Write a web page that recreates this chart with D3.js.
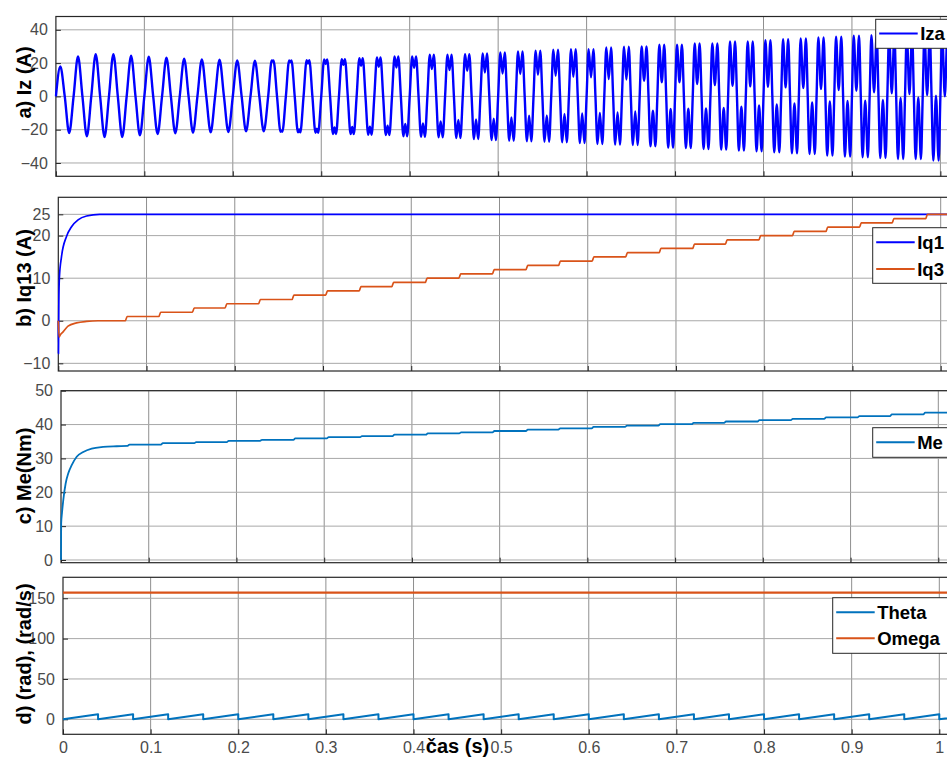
<!DOCTYPE html>
<html>
<head>
<meta charset="utf-8">
<script src="https://cdn.jsdelivr.net/npm/d3@7"></script>
<style>
  html, body { margin: 0; padding: 0; background: #fff; }
  svg { display: block; }
  text { font-family: "Liberation Sans", Arial, Helvetica, sans-serif; }
</style>
</head>
<body>
<svg id="fig" width="947" height="758"></svg>
<script>
// ---------------- data ----------------
const timeTicks = [0, 0.1, 0.2, 0.3, 0.4, 0.5, 0.6, 0.7, 0.8, 0.9, 1];
const timeTickLabels = ["0", "0.1", "0.2", "0.3", "0.4", "0.5", "0.6", "0.7", "0.8", "0.9", "1"];

// a) phase current Iz, 50 Hz: one entry per electrical cycle k (0.02 s each)
const izPeriod = 0.02;
const izPosPeak = [18, 24, 25.4, 25.4, 24.4, 23.8, 23.2, 22.6, 22.2, 22, 21.6, 21.4, 21.6, 21.6, 21.8, 22.2, 22.4, 23, 23.4, 24,
  24, 25, 25, 25.4, 25.8, 26.4, 27, 27.4, 28, 28.4, 28.4, 29.4, 29.8, 30, 31, 31, 31.8, 31.8, 33, 33,
  33.8, 34.4, 34.8, 35.4, 35.8, 36.4, 36.8, 37.4, 37.8, 38, 38.4];
const izPosDip = [18, 24, 25.4, 25.4, 24.4, 23.8, 23.2, 22.6, 22.2, 22, 21.6, 21.4, 21.0, 20.6, 19.8, 19.4, 19, 18.4, 17.8, 17.4,
  17.2, 16.4, 15.8, 15.4, 14.4, 13.8, 13.4, 13, 12.4, 11.8, 11.4, 10.4, 10.2, 9.4, 8.4, 8.4, 7.4, 6.8, 6.4, 6,
  5.8, 5.4, 5, 4.4, 3.8, 3.4, 2.4, 1.8, 1.4, 0.8, 0];
const izNegPeak = [-22, -24, -24.4, -24.4, -23.4, -22.6, -22.2, -21.8, -21.6, -21.4, -21, -21, -21.2, -21.6, -21.8, -22.6, -22.6, -23, -23.2, -24,
  -24.2, -24.6, -25, -25.6, -26.2, -26.6, -27, -27.2, -27.6, -28, -28.6, -29, -29.2, -30, -30.8, -31, -31.6, -32, -32.6, -33,
  -33.6, -34.2, -34.6, -35.6, -36.2, -36.6, -37, -37.6, -37.6, -38.6, -38.8];
const izNegDip = [-22, -24, -24.4, -24.4, -23.4, -22.6, -22.2, -21.8, -21.6, -21.4, -21, -21, -20.6, -19.8, -19.4, -18.6, -18.4, -18.2, -17.6, -16.6,
  -16.2, -15, -14.2, -13.8, -13.4, -12.6, -11.6, -11.4, -10.6, -10.2, -10, -9.6, -9, -8.6, -7.6, -7.4, -7.2, -7, -6.2, -5.4,
  -4.8, -4.2, -3.6, -3, -2.8, -2.6, -2.2, -1, -0.6, 0.4, 0.6];
// position of the two humps inside each half cycle (0.5 = single rounded peak)
const izHump = [0.5, 0.5, 0.5, 0.5, 0.5, 0.5, 0.5, 0.5, 0.5, 0.5, 0.5, 0.5,
  0.4, 0.37, 0.35, 0.33, 0.32, 0.31, 0.3, 0.29, 0.28, 0.27, 0.27, 0.26, 0.26, 0.25, 0.25,
  0.24, 0.24, 0.24, 0.23, 0.23, 0.23, 0.22, 0.22, 0.22, 0.22, 0.21, 0.21, 0.21, 0.21, 0.21,
  0.2, 0.2, 0.2, 0.2, 0.2, 0.2, 0.2, 0.2, 0.2];
const izTicks = [-40, -20, 0, 20, 40];

// b) q-axis currents
const iq1Time = [0, 0.0002, 0.0006, 0.0012, 0.0036, 0.0093, 0.015, 0.0224, 0.032, 0.047, 0.07, 1.06];
const iq1Value = [0, -7.7, 4, 10, 15, 19.8, 22.1, 23.7, 24.6, 25, 25, 25];
const iq3StartTime = [0, 0.001, 0.002, 0.0054, 0.011, 0.0206, 0.032, 0.045];
const iq3StartValue = [0, -3.8, -3.4, -2.6, -1.25, -0.5, -0.15, 0];
const stepTimes = [0.076, 0.114, 0.152, 0.189, 0.227, 0.265, 0.303, 0.341, 0.378, 0.416, 0.454, 0.492, 0.530,
  0.567, 0.605, 0.643, 0.681, 0.719, 0.756, 0.794, 0.832, 0.870, 0.908, 0.945, 0.983];
const iq3Levels = [1, 2, 3, 4, 5, 6, 7, 8, 9, 10, 11, 12, 13, 14, 15, 16, 17, 18, 19, 20, 21, 22, 23, 24, 25];
const iqTicks = [-10, 0, 10, 20, 25];

// c) electromagnetic torque
const meStartTime = [0, 0.0002, 0.0011, 0.0026, 0.0053, 0.0083, 0.0122, 0.0179, 0.0254, 0.035, 0.048, 0.0635];
const meStartValue = [0, 10.8, 13.8, 17.7, 22.6, 25.6, 28, 30.5, 31.9, 32.9, 33.4, 33.6];
const meBase = 33.7;
const meLevels = [34.1, 34.5, 34.8, 35.2, 35.5, 35.9, 36.3, 36.6, 37.0, 37.4, 37.7, 38.1, 38.5, 38.9, 39.3,
  39.7, 40.1, 40.5, 40.9, 41.3, 41.7, 42.1, 42.5, 43.0, 43.5];
const meTicks = [0, 10, 20, 30, 40, 50];

// d) rotor angle (saw-tooth) and speed
const thetaResetTimes = [0, 0.04, 0.08, 0.12, 0.16, 0.2, 0.24, 0.28, 0.32, 0.36, 0.4, 0.44, 0.48, 0.52,
  0.56, 0.6, 0.64, 0.68, 0.72, 0.76, 0.8, 0.84, 0.88, 0.92, 0.96, 1.0, 1.04];
const thetaMax = 6.28;
const omegaTime = [0, 1.06];
const omegaValue = [157, 157];
const angTicks = [0, 50, 100, 150];

// ---------------- series assembly ----------------
const izPts = [];
izPosPeak.forEach((_, k) => {
  const half = izPeriod / 2;
  [[izPosPeak[k], izPosDip[k]], [izNegPeak[k], izNegDip[k]]].forEach(([pk, dp], h) => {
    const t0 = k * izPeriod + h * half;
    const f = izHump[k];
    izPts.push([t0, 0]);
    if (f >= 0.5) izPts.push([t0 + half / 2, pk]);
    else izPts.push([t0 + f * half, pk], [t0 + half / 2, dp], [t0 + (1 - f) * half, pk]);
  });
});
izPts.push([izPosPeak.length * izPeriod, 0]);

const iq1Pts = iq1Time.map((t, i) => [t, iq1Value[i]]);

function stepSeries(startT, startV, base, levels, endT) {
  const pts = startT.map((t, i) => [t, startV[i]]);
  let prev = base;
  stepTimes.forEach((t, i) => {
    pts.push([t, prev], [t + 0.002, levels[i]]);
    prev = levels[i];
  });
  pts.push([endT, prev]);
  return pts;
}
const iq3Pts = stepSeries(iq3StartTime, iq3StartValue, 0, iq3Levels, 1.06);
const mePts = stepSeries(meStartTime, meStartValue, meBase, meLevels, 1.06);

const thetaPts = [];
thetaResetTimes.slice(0, -1).forEach((t, i) => {
  thetaPts.push([t, 0], [thetaResetTimes[i + 1], thetaMax]);
});
const omegaPts = omegaTime.map((t, i) => [t, omegaValue[i]]);

// ---------------- layout ----------------
const svg = d3.select("#fig");
const RIGHT = 1010;            // axes continue past the visible edge
const AX = "#262626";
const BLUE = "#0000ff", MBLUE = "#0072bd", ORANGE = "#d95319";

const panels = [
  { left: 55.9, one: 940.4, top: 16.5, bottom: 176.3, yDomain: [-48, 48], yTicks: izTicks,
    label: "a) Iz (A)", labelY: 82.5,
    series: [{ pts: izPts, color: BLUE, width: 2.4, curve: d3.curveMonotoneX }],
    legend: { x: 875.7, y: 19.3, h: 29, rows: [{ name: "Iza", color: BLUE, y: 33.6 }] } },
  { left: 58.3, one: 940.7, top: 197.3, bottom: 371, yDomain: [-11.8, 29], yTicks: iqTicks,
    label: "b) Iq13 (A)", labelY: 278,
    series: [{ pts: iq1Pts, color: BLUE, width: 1.7, curve: d3.curveMonotoneX },
             { pts: iq3Pts, color: ORANGE, width: 1.7, curve: d3.curveMonotoneX }],
    legend: { x: 872.7, y: 227.7, h: 55.6, rows: [{ name: "Iq1", color: BLUE, y: 242.3 }, { name: "Iq3", color: ORANGE, y: 269 }] } },
  { left: 61, one: 938.3, top: 390.7, bottom: 562.7, yDomain: [-0.8, 50], yTicks: meTicks,
    label: "c) Me(Nm)", labelY: 476,
    series: [{ pts: mePts, color: MBLUE, width: 1.8, curve: d3.curveMonotoneX }],
    legend: { x: 872.7, y: 427.7, h: 29.6, rows: [{ name: "Me", color: MBLUE, y: 442.3 }] } },
  { left: 63, one: 939.3, top: 577.3, bottom: 734.3, yDomain: [-18.6, 176], yTicks: angTicks,
    label: "d) (rad), (rad/s)", labelY: 654, xLabels: true,
    series: [{ pts: thetaPts, color: MBLUE, width: 2, curve: d3.curveLinear },
             { pts: omegaPts, color: ORANGE, width: 2.2, curve: d3.curveLinear }],
    legend: { x: 832.7, y: 597.7, h: 55.6, rows: [{ name: "Theta", color: MBLUE, y: 612.3 }, { name: "Omega", color: ORANGE, y: 638.3 }] } }
];

panels.forEach((p, pi) => {
  const x = d3.scaleLinear().domain([0, 1]).range([p.left, p.one]);
  const y = d3.scaleLinear().domain(p.yDomain).range([p.bottom, p.top]);
  const g = svg.append("g");

  const clipId = "clip" + pi;
  svg.append("clipPath").attr("id", clipId)
    .append("rect").attr("x", p.left - 1.5).attr("y", p.top)
    .attr("width", RIGHT - p.left).attr("height", p.bottom - p.top);

  // grid
  g.append("g").selectAll("line").data(timeTicks.slice(1)).join("line")
    .attr("x1", d => x(d)).attr("x2", d => x(d))
    .attr("y1", p.top).attr("y2", p.bottom)
    .attr("stroke", "#8f8f8f").attr("stroke-width", 1);
  g.append("g").selectAll("line").data(p.yTicks).join("line")
    .attr("x1", p.left).attr("x2", RIGHT)
    .attr("y1", d => y(d)).attr("y2", d => y(d))
    .attr("stroke", "#a8a8a8").attr("stroke-width", 1);

  // y axis with inward ticks
  const yAxis = g.append("g").attr("transform", `translate(${p.left},0)`)
    .call(d3.axisLeft(y).tickValues(p.yTicks).tickFormat(d3.format("d")).tickSize(-5).tickPadding(8));
  yAxis.select(".domain").remove();
  yAxis.selectAll(".tick line").attr("stroke", AX);
  yAxis.selectAll(".tick text").attr("fill", "#4a4a4a").style("font-size", "16px")
    .style("font-family", '"Liberation Sans", Arial, sans-serif');

  // x axis ticks (labels only on the last panel)
  const xAxis = g.append("g").attr("transform", `translate(0,${p.bottom})`)
    .call(d3.axisBottom(x).tickValues(timeTicks)
      .tickFormat((d, i) => p.xLabels ? timeTickLabels[i] : "")
      .tickSize(-5).tickPadding(7.5));
  xAxis.select(".domain").remove();
  xAxis.selectAll(".tick line").attr("stroke", AX);
  xAxis.selectAll(".tick text").attr("fill", "#4a4a4a").style("font-size", "16px")
    .style("font-family", '"Liberation Sans", Arial, sans-serif');

  // frame
  g.append("rect").attr("x", p.left).attr("y", p.top)
    .attr("width", RIGHT - p.left).attr("height", p.bottom - p.top)
    .attr("fill", "none").attr("stroke", AX).attr("stroke-width", 1.2);

  // data lines, on top of the frame
  const line = d3.line().x(d => x(d[0])).y(d => y(d[1]));
  const lg = g.append("g").attr("clip-path", `url(#${clipId})`);
  p.series.forEach(s => {
    lg.append("path").datum(s.pts)
      .attr("d", line.curve(s.curve))
      .attr("fill", "none").attr("stroke", s.color)
      .attr("stroke-width", s.width).attr("stroke-linejoin", "round");
  });

  // y label
  g.append("text")
    .attr("transform", `translate(31,${p.labelY}) rotate(-90)`)
    .attr("text-anchor", "middle")
    .attr("font-weight", "bold").attr("font-size", 20).attr("fill", "#000")
    .text(p.label);

  // legend
  const L = p.legend;
  const leg = g.append("g");
  leg.append("rect").attr("x", L.x).attr("y", L.y)
    .attr("width", 200).attr("height", L.h)
    .attr("fill", "#fff").attr("stroke", AX).attr("stroke-width", 1);
  L.rows.forEach(r => {
    leg.append("line").attr("x1", L.x + 3.5).attr("x2", L.x + 42)
      .attr("y1", r.y).attr("y2", r.y)
      .attr("stroke", r.color).attr("stroke-width", 2);
    leg.append("text").attr("x", L.x + 44.5).attr("y", r.y).attr("dy", "0.36em")
      .attr("font-weight", "bold").attr("font-size", 18.5).attr("fill", "#000")
      .text(r.name);
  });
});

// x label
svg.append("text").attr("x", 457.5).attr("y", 753)
  .attr("text-anchor", "middle").attr("font-weight", "bold").attr("font-size", 20)
  .attr("fill", "#000").text("čas (s)");
</script>
</body>
</html>
